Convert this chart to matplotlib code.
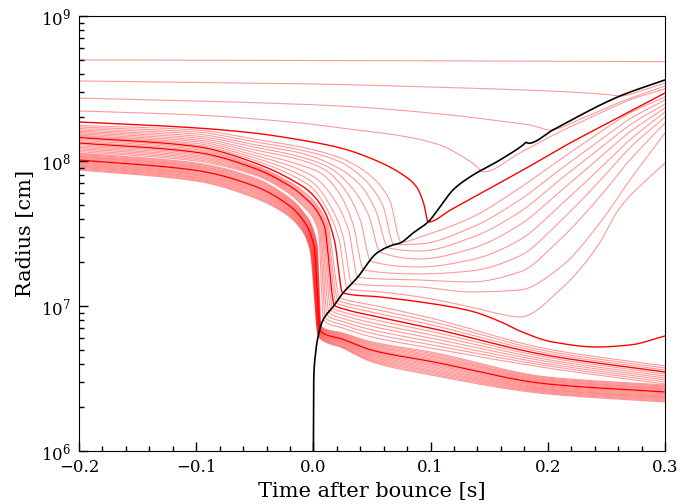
"""Mass-shell trajectories and shock radius around core bounce."""
import matplotlib
matplotlib.use("Agg")
import matplotlib.pyplot as plt
import numpy as np

# Shock radius: time after bounce [s] and log10(radius / cm)
shock_t = [0.0, 0.0003, 0.0014, 0.0039, 0.0082, 0.0167, 0.0253, 0.0372,
           0.0543, 0.0679, 0.0739, 0.0850, 0.0978, 0.1080, 0.1191, 0.1336,
           0.1592, 0.1788, 0.1815, 0.1835, 0.2044, 0.2616, 0.3000]
shock_logr = [6.000, 6.490, 6.641, 6.786, 6.903, 6.993, 7.090, 7.193,
              7.366, 7.421, 7.434, 7.503, 7.579, 7.683, 7.800, 7.890,
              8.007, 8.110, 8.128, 8.122, 8.214, 8.448, 8.559]

# Outer shells, one knot list each (time [s], log10 r [cm])
outer_t = [
    [-0.2, 0.022, 0.3],
    [-0.2, -0.1, 0.0, 0.1, 0.2, 0.25, 0.262, 0.279, 0.3],
    [-0.2, -0.1, 0.023, 0.117, 0.159, 0.185, 0.202, 0.228, 0.262, 0.3],
    [-0.2, -0.1, -0.011, 0.023, 0.080, 0.108, 0.125, 0.138, 0.145, 0.176,
     0.210, 0.245, 0.270, 0.3],
    [-0.2, -0.1, -0.051, -0.011, 0.023, 0.046, 0.074, 0.088, 0.094, 0.098,
     0.117, 0.151, 0.185, 0.219, 0.253, 0.279, 0.3],
    [-0.2, -0.1, -0.051, -0.011, 0.023, 0.048, 0.065, 0.075, 0.091, 0.134,
     0.176, 0.210, 0.245, 0.270, 0.3],
    [-0.2, -0.1, -0.051, -0.011, 0.023, 0.044, 0.059, 0.069, 0.091, 0.134,
     0.176, 0.210, 0.245, 0.270, 0.3],
    [-0.2, -0.1, -0.051, -0.011, 0.018, 0.040, 0.053, 0.064, 0.091, 0.134,
     0.176, 0.210, 0.245, 0.270, 0.3],
    [-0.2, -0.1, -0.051, -0.011, 0.014, 0.033, 0.047, 0.057, 0.091, 0.134,
     0.176, 0.210, 0.245, 0.270, 0.3],
    [-0.2, -0.1, -0.051, -0.011, 0.010, 0.027, 0.040, 0.049, 0.091, 0.134,
     0.176, 0.210, 0.245, 0.270, 0.3],
    [-0.2, -0.1, -0.051, -0.011, 0.006, 0.023, 0.034, 0.043, 0.091, 0.134,
     0.176, 0.210, 0.245, 0.270, 0.3],
    [-0.2, -0.1, -0.051, -0.011, 0.004, 0.018, 0.030, 0.038, 0.091, 0.134,
     0.176, 0.210, 0.245, 0.270, 0.3],
    [-0.2, -0.1, -0.051, -0.011, 0.001, 0.014, 0.025, 0.033, 0.091, 0.134,
     0.176, 0.210, 0.245, 0.270, 0.3],
    [-0.2, -0.1, -0.051, -0.011, -0.001, 0.012, 0.022, 0.029, 0.057, 0.091,
     0.134, 0.159, 0.176, 0.213, 0.242, 0.262, 0.3],
    [-0.2, -0.1, -0.051, -0.011, -0.003, 0.009, 0.018, 0.025, 0.057, 0.091,
     0.134, 0.162, 0.176, 0.204, 0.242, 0.270, 0.3],
]
outer_logr = [
    [8.697, 8.693, 8.685],
    [8.552, 8.541, 8.531, 8.510, 8.483, 8.459, 8.448, 8.483, 8.538],
    [8.434, 8.414, 8.379, 8.317, 8.276, 8.248, 8.214, 8.290, 8.407, 8.517],
    [8.345, 8.317, 8.262, 8.228, 8.166, 8.110, 8.041, 7.972, 7.925, 8.055,
     8.200, 8.331, 8.421, 8.497],
    [8.269, 8.228, 8.193, 8.145, 8.090, 8.028, 7.917, 7.821, 7.710, 7.579,
     7.662, 7.814, 7.966, 8.124, 8.269, 8.379, 8.469],
    [8.245, 8.214, 8.152, 8.097, 8.021, 7.903, 7.731, 7.439, 7.476, 7.607,
     7.814, 8.007, 8.200, 8.331, 8.441],
    [8.234, 8.200, 8.133, 8.076, 7.993, 7.869, 7.697, 7.423, 7.428, 7.538,
     7.731, 7.938, 8.145, 8.290, 8.421],
    [8.224, 8.186, 8.114, 8.055, 7.966, 7.834, 7.662, 7.400, 7.379, 7.469,
     7.648, 7.869, 8.090, 8.248, 8.393],
    [8.214, 8.172, 8.097, 8.028, 7.952, 7.814, 7.628, 7.372, 7.324, 7.393,
     7.559, 7.786, 8.028, 8.200, 8.366],
    [8.205, 8.159, 8.078, 8.007, 7.938, 7.800, 7.593, 7.308, 7.269, 7.317,
     7.455, 7.690, 7.952, 8.145, 8.338],
    [8.196, 8.146, 8.060, 7.972, 7.917, 7.766, 7.559, 7.248, 7.221, 7.241,
     7.345, 7.579, 7.869, 8.090, 8.303],
    [8.187, 8.134, 8.041, 7.938, 7.869, 7.731, 7.524, 7.197, 7.179, 7.166,
     7.234, 7.455, 7.759, 8.007, 8.262],
    [8.178, 8.121, 8.024, 7.903, 7.841, 7.697, 7.490, 7.154, 7.131, 7.097,
     7.110, 7.262, 7.579, 7.869, 8.193],
    [8.170, 8.110, 8.007, 7.869, 7.814, 7.662, 7.455, 7.119, 7.097, 7.062,
     6.993, 6.945, 6.924, 7.131, 7.407, 7.683, 7.986],
    [8.162, 8.100, 7.990, 7.834, 7.786, 7.660, 7.450, 7.090, 7.062, 7.028,
     6.966, 6.883, 6.828, 6.752, 6.717, 6.731, 6.793],
]
outer_dark = [4, 14]

# Inner shells share the early and late sampling times; each row holds
# log10 r at pre_t, then at its own bend and shock times, then at post_t
pre_t = [-0.2, -0.1, -0.05, -0.025, -0.01]
post_t = [0.025, 0.05, 0.1, 0.2, 0.3]

mid_bend_t = [0.0116, 0.0108, 0.0100, 0.0092, 0.0084,
              0.0076, 0.0068, 0.0060, 0.0052, 0.0044]
mid_shock_t = [0.0227, 0.0211, 0.0196, 0.0180, 0.0164,
               0.0149, 0.0133, 0.0117, 0.0102, 0.0086]
mid_logr = [
    [8.153, 8.090, 7.972, 7.876, 7.800, 7.579, 7.055, 7.048, 7.007, 6.917, 6.703, 6.586],
    [8.143, 8.080, 7.964, 7.868, 7.789, 7.571, 7.038, 7.026, 6.982, 6.894, 6.688, 6.572],
    [8.133, 8.070, 7.957, 7.859, 7.777, 7.564, 7.021, 7.004, 6.958, 6.871, 6.674, 6.558],
    [8.124, 8.060, 7.949, 7.851, 7.766, 7.556, 7.004, 6.981, 6.933, 6.848, 6.659, 6.545],
    [8.114, 8.050, 7.941, 7.842, 7.754, 7.548, 6.987, 6.959, 6.909, 6.825, 6.645, 6.531],
    [8.104, 8.040, 7.934, 7.834, 7.743, 7.541, 6.971, 6.937, 6.884, 6.802, 6.630, 6.517],
    [8.094, 8.030, 7.926, 7.825, 7.731, 7.533, 6.954, 6.915, 6.860, 6.779, 6.616, 6.503],
    [8.085, 8.020, 7.918, 7.817, 7.720, 7.525, 6.937, 6.893, 6.835, 6.756, 6.601, 6.490],
    [8.075, 8.010, 7.911, 7.808, 7.708, 7.518, 6.920, 6.870, 6.811, 6.733, 6.587, 6.476],
    [8.065, 8.000, 7.903, 7.800, 7.697, 7.510, 6.903, 6.848, 6.786, 6.710, 6.572, 6.462],
]
mid_dark = [3]

core_bend_t = [0.0031, 0.0028, 0.0024, 0.0020, 0.0017, 0.0013, 0.0010, 0.0006,
               0.0003, -0.0001, -0.0004, -0.0008, -0.0011, -0.0015, -0.0018,
               -0.0022, -0.0025, -0.0029]
core_land_t = [0.0065, 0.0064, 0.0062, 0.0061, 0.0060, 0.0059, 0.0058, 0.0056,
               0.0055, 0.0054, 0.0053, 0.0051, 0.0050, 0.0049, 0.0048, 0.0046,
               0.0045, 0.0044]
core_logr = [
    [8.055, 7.986, 7.883, 7.772, 7.662, 7.428, 6.859, 6.814, 6.752, 6.683, 6.510, 6.455],
    [8.048, 7.979, 7.875, 7.764, 7.654, 7.426, 6.855, 6.808, 6.744, 6.674, 6.503, 6.448],
    [8.041, 7.971, 7.867, 7.757, 7.646, 7.423, 6.850, 6.802, 6.736, 6.664, 6.496, 6.441],
    [8.034, 7.964, 7.859, 7.749, 7.638, 7.421, 6.846, 6.796, 6.728, 6.655, 6.489, 6.434],
    [8.028, 7.957, 7.851, 7.741, 7.630, 7.418, 6.842, 6.790, 6.720, 6.646, 6.483, 6.428],
    [8.021, 7.950, 7.842, 7.734, 7.621, 7.416, 6.838, 6.783, 6.711, 6.636, 6.476, 6.421],
    [8.014, 7.942, 7.834, 7.726, 7.613, 7.413, 6.833, 6.777, 6.703, 6.627, 6.469, 6.414],
    [8.007, 7.935, 7.826, 7.718, 7.605, 7.411, 6.829, 6.771, 6.695, 6.618, 6.462, 6.407],
    [8.000, 7.928, 7.818, 7.710, 7.597, 7.408, 6.825, 6.765, 6.687, 6.608, 6.455, 6.400],
    [7.993, 7.920, 7.810, 7.703, 7.589, 7.406, 6.820, 6.759, 6.679, 6.599, 6.448, 6.393],
    [7.986, 7.913, 7.802, 7.695, 7.581, 7.403, 6.816, 6.753, 6.671, 6.590, 6.441, 6.386],
    [7.979, 7.906, 7.794, 7.687, 7.573, 7.401, 6.812, 6.747, 6.663, 6.580, 6.434, 6.379],
    [7.972, 7.899, 7.786, 7.680, 7.565, 7.398, 6.808, 6.741, 6.655, 6.571, 6.427, 6.372],
    [7.966, 7.891, 7.778, 7.672, 7.557, 7.396, 6.803, 6.735, 6.647, 6.561, 6.421, 6.366],
    [7.959, 7.884, 7.769, 7.664, 7.548, 7.393, 6.799, 6.728, 6.638, 6.552, 6.414, 6.359],
    [7.952, 7.877, 7.761, 7.656, 7.540, 7.391, 6.795, 6.722, 6.630, 6.543, 6.407, 6.352],
    [7.945, 7.869, 7.753, 7.649, 7.532, 7.388, 6.790, 6.716, 6.622, 6.533, 6.400, 6.345],
    [7.938, 7.862, 7.745, 7.641, 7.524, 7.386, 6.786, 6.710, 6.614, 6.524, 6.393, 6.338],
]
core_dark = [7]

x_ticks = [-0.2, -0.1, 0.0, 0.1, 0.2, 0.3]


def pchip(x, y, xs):
    """Monotone cubic Hermite curve through (x, y), evaluated at xs."""
    x = np.asarray(x, float)
    y = np.asarray(y, float)
    h = np.diff(x)
    d = np.diff(y) / h
    m = np.zeros_like(y)
    for i in range(1, len(x) - 1):
        if d[i - 1] * d[i] > 0:
            w1 = 2 * h[i] + h[i - 1]
            w2 = h[i] + 2 * h[i - 1]
            m[i] = (w1 + w2) / (w1 / d[i - 1] + w2 / d[i])
    m[0] = d[0]
    m[-1] = d[-1]
    k = np.clip(np.searchsorted(x, xs, side="right") - 1, 0, len(h) - 1)
    s = (xs - x[k]) / h[k]
    h00 = 2 * s**3 - 3 * s**2 + 1
    h10 = s**3 - 2 * s**2 + s
    h01 = -2 * s**3 + 3 * s**2
    h11 = s**3 - s**2
    return (h00 * y[k] + h10 * h[k] * m[k]
            + h01 * y[k + 1] + h11 * h[k] * m[k + 1])


def track(times, logr, n=4000):
    ts = np.union1d(np.linspace(times[0], times[-1], n), times)
    return ts, 10 ** pchip(times, logr, ts)


def draw_shell(ax, times, logr, dark):
    ts, rs = track(times, logr)
    if dark:
        ax.plot(ts, rs, color="red", lw=1.0, zorder=2)
    else:
        ax.plot(ts, rs, color="red", alpha=0.4, lw=0.8, zorder=1)


def main() -> None:
    plt.rcParams["font.family"] = "serif"
    plt.rcParams["mathtext.fontset"] = "dejavuserif"

    fig = plt.figure(figsize=(6.81, 5.04), dpi=100)
    ax = fig.add_axes([0.116, 0.1052, 0.8605, 0.8631])

    for i, (t, r) in enumerate(zip(outer_t, outer_logr)):
        draw_shell(ax, t, r, i in outer_dark)
    for i, row in enumerate(mid_logr):
        t = pre_t + [mid_bend_t[i], mid_shock_t[i]] + post_t
        draw_shell(ax, t, row, i in mid_dark)
    for i, row in enumerate(core_logr):
        t = pre_t + [core_bend_t[i], core_land_t[i]] + post_t
        draw_shell(ax, t, row, i in core_dark)

    ts, rs = track(shock_t, shock_logr)
    ax.plot(ts, rs, color="black", lw=1.2, zorder=3)

    ax.set_yscale("log")
    ax.set_xlim(-0.2, 0.3)
    ax.set_ylim(1e6, 1e9)
    ax.set_xticks(x_ticks)
    ax.set_xticks(np.arange(-0.2, 0.301, 0.02), minor=True)
    ax.tick_params(which="both", direction="in", top=False, right=False,
                   labelsize=12, pad=6)
    ax.tick_params(which="major", length=6.5, width=1)
    ax.tick_params(which="minor", length=3.5, width=1)
    ax.set_xlabel("Time after bounce [s]", fontsize=15)
    ax.set_ylabel("Radius [cm]", fontsize=15)

    fig.savefig("out.png", dpi=100)


if __name__ == "__main__":
    main()
